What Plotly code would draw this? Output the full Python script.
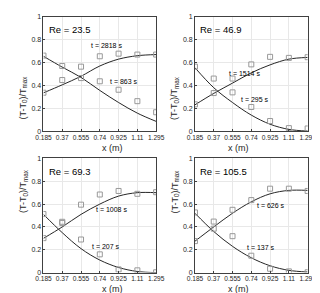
import plotly.graph_objects as go

x_ticks = [0.185, 0.37, 0.555, 0.74, 0.925, 1.11, 1.295]
x_tick_labels = ["0.185", "0.37", "0.555", "0.74", "0.925", "1.11", "1.295"]
y_ticks = [0, 0.2, 0.4, 0.6, 0.8, 1]
y_tick_labels = ["0", "0.2", "0.4", "0.6", "0.8", "1"]

re_labels = ["Re = 23.5", "Re = 46.9", "Re = 69.3", "Re = 105.5"]

# measured points (late time / early time) per panel
late_meas = [
    [0.336, 0.447, 0.464, 0.655, 0.678, 0.670, 0.670],
    [0.234, 0.333, 0.460, 0.584, 0.650, 0.641, 0.647],
    [0.302, 0.445, 0.595, 0.684, 0.715, 0.690, 0.704],
    [0.276, 0.447, 0.550, 0.635, 0.735, 0.735, 0.715],
]
early_meas = [
    [0.661, 0.570, 0.564, 0.436, 0.362, 0.262, 0.165],
    [0.564, 0.460, 0.339, 0.211, 0.088, 0.026, 0.023],
    [0.513, 0.435, 0.290, 0.160, 0.028, 0.020, 0.003],
    [0.527, 0.385, 0.319, 0.148, 0.034, 0.011, 0.003],
]
# model curves read at the tick positions
late_model = [
    [0.335, 0.405, 0.480, 0.570, 0.630, 0.660, 0.670],
    [0.230, 0.330, 0.420, 0.510, 0.580, 0.630, 0.645],
    [0.300, 0.400, 0.510, 0.600, 0.670, 0.700, 0.700],
    [0.275, 0.400, 0.520, 0.620, 0.690, 0.720, 0.720],
]
early_model = [
    [0.655, 0.560, 0.470, 0.356, 0.250, 0.157, 0.085],
    [0.555, 0.380, 0.250, 0.140, 0.060, 0.015, 0.000],
    [0.510, 0.350, 0.210, 0.110, 0.045, 0.010, 0.000],
    [0.520, 0.360, 0.230, 0.130, 0.060, 0.020, 0.005],
]
late_labels = ["t = 2818 s", "t = 1514 s", "t = 1008 s", "t = 626 s"]
early_labels = ["t = 863 s", "t = 295 s", "t = 207 s", "t = 137 s"]
late_label_pos = [(0.81, 0.75), (0.67, 0.50), (0.86, 0.55), (0.93, 0.59)]
early_label_pos = [(0.98, 0.435), (0.78, 0.275), (0.80, 0.23), (0.84, 0.22)]

W, H = 320, 293
x_doms = [[29 / W, 148 / W], [189 / W, 308 / W]]
y_doms = [[(H - 122) / H, (H - 5) / H], [(H - 267) / H, (H - 150) / H]]

FONT = "Liberation Sans, Arial, sans-serif"
fig = go.Figure()
layout = dict(
    width=W, height=H, margin=dict(l=0, r=0, t=0, b=0),
    paper_bgcolor="white", plot_bgcolor="white", showlegend=False,
    font=dict(family=FONT, color="#262626"),
)
annotations = []
for i in range(4):
    r, c = divmod(i, 2)
    xa = "xaxis" if i == 0 else f"xaxis{i+1}"
    ya = "yaxis" if i == 0 else f"yaxis{i+1}"
    xr = "x" if i == 0 else f"x{i+1}"
    yr = "y" if i == 0 else f"y{i+1}"
    layout[xa] = dict(
        domain=x_doms[c], anchor=yr, range=[0.185, 1.295],
        tickvals=x_ticks, ticktext=x_tick_labels, tickfont=dict(size=6.6, color="#262626"),
        showgrid=True, gridcolor="#e8e8e8", gridwidth=1,
        showline=True, linecolor="#404040", linewidth=0.7, mirror=True,
        ticks="inside", ticklen=2, tickcolor="#404040", zeroline=False,
    )
    layout[ya] = dict(
        domain=y_doms[r], anchor=xr, range=[0, 1],
        tickvals=y_ticks, ticktext=y_tick_labels, tickfont=dict(size=7, color="#262626"),
        showgrid=True, gridcolor="#e8e8e8", gridwidth=1,
        showline=True, linecolor="#404040", linewidth=0.7, mirror=True,
        ticks="inside", ticklen=2, tickcolor="#404040", zeroline=False,
    )
    fig.add_trace(go.Scatter(x=x_ticks, y=late_model[i], mode="lines", line=dict(color="#262626", width=1, shape="spline", smoothing=1.0), xaxis=xr, yaxis=yr))
    fig.add_trace(go.Scatter(x=x_ticks, y=early_model[i], mode="lines", line=dict(color="#262626", width=1, shape="spline", smoothing=1.0), xaxis=xr, yaxis=yr))
    for meas in (late_meas[i], early_meas[i]):
        fig.add_trace(go.Scatter(x=x_ticks, y=meas, mode="markers",
                                 marker=dict(symbol="square-open", size=5, color="#999999", line=dict(width=1)),
                                 xaxis=xr, yaxis=yr))
    annotations.append(dict(x=0.215, y=0.955, xref=xr, yref=yr, text=re_labels[i], showarrow=False,
                            xanchor="left", yanchor="top", font=dict(size=9.5, color="#000")))
    annotations.append(dict(x=late_label_pos[i][0], y=late_label_pos[i][1], xref=xr, yref=yr, text=late_labels[i],
                            showarrow=False, font=dict(size=7, color="#000")))
    annotations.append(dict(x=early_label_pos[i][0], y=early_label_pos[i][1], xref=xr, yref=yr, text=early_labels[i],
                            showarrow=False, font=dict(size=7, color="#000")))
    # axis titles
    annotations.append(dict(x=(x_doms[c][0] + x_doms[c][1]) / 2, y=y_doms[r][0] - 17 / H, xref="paper", yref="paper",
                            text="x (m)", showarrow=False, yanchor="middle", font=dict(size=9, color="#262626")))
    annotations.append(dict(x=x_doms[c][0] - 21 / W, y=(y_doms[r][0] + y_doms[r][1]) / 2, xref="paper", yref="paper",
                            text="(T-T<sub>0</sub>)/T<sub>max</sub>", textangle=-90, showarrow=False,
                            xanchor="center", font=dict(size=9, color="#262626")))
layout["annotations"] = annotations
fig.update_layout(**layout)
fig.write_html("out.html")
